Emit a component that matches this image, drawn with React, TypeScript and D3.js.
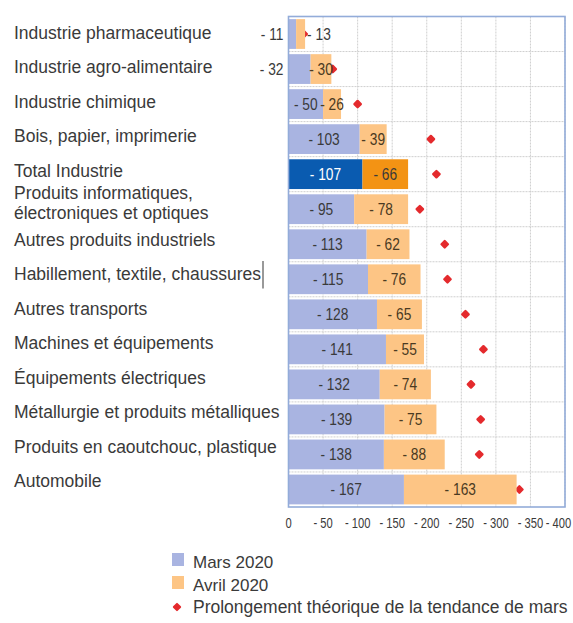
import * as d3 from 'd3';

// Industry sectors, top to bottom
const categories = [
  'Industrie pharmaceutique',
  'Industrie agro-alimentaire',
  'Industrie chimique',
  'Bois, papier, imprimerie',
  'Total Industrie',
  'Produits informatiques,\nélectroniques et optiques',
  'Autres produits industriels',
  'Habillement, textile, chaussures',
  'Autres transports',
  'Machines et équipements',
  'Équipements électriques',
  'Métallurgie et produits métalliques',
  'Produits en caoutchouc, plastique',
  'Automobile',
];

// drop, in points (shown as negative values)
const mars2020 = [11, 32, 50, 103, 107, 95, 113, 115, 128, 141, 132, 139, 138, 167];
const avril2020 = [13, 30, 26, 39, 66, 78, 62, 76, 65, 55, 74, 75, 88, 163];
// theoretical extension of the March trend (red markers)
const prolongement = [22, 64, 100, 206, 214, 190, 226, 230, 256, 282, 264, 278, 276, 334];

const xTicks = [0, 50, 100, 150, 200, 250, 300, 350, 400];

const FONT = '"Liberation Sans", Arial, sans-serif';
const TEXT = '#3a3a3a';

const App = () => {
  const width = 573;
  const height = 623;
  const plot = { left: 288.5, right: 565, top: 16.5, bottom: 507 };

  const x = d3.scaleLinear().domain([0, 400]).range([plot.left, plot.right]);
  const y = d3.scaleBand<string>()
    .domain(categories)
    .range([plot.top, plot.bottom])
    .paddingInner(0.15)
    .paddingOuter(0.075);
  const rowH = (plot.bottom - plot.top) / categories.length;
  // category labels sit a bit higher than the rows
  const yLabel = d3.scaleBand<string>().domain(categories).range([15.8, 498.2]);

  const marker = d3.symbol().type(d3.symbolSquare).size(20)() || '';

  const colors = (i: number) =>
    categories[i] === 'Total Industrie'
      ? { mars: '#0a5bb0', avril: '#f39314', marsText: '#ffffff', avrilText: '#3a3a3a' }
      : { mars: '#a9b4e1', avril: '#fdc585', marsText: TEXT, avrilText: '#4a3a22' };

  // horizontally squeezed text, to mimic the condensed font of the original
  const narrowText = (
    key: string, tx: number, ty: number, label: string,
    anchor: 'start' | 'middle' | 'end', size: number, fill: string, squeeze = 0.86
  ) => (
    <g key={key} transform={`translate(${tx},${ty}) scale(${squeeze},1)`}>
      <text textAnchor={anchor} fontSize={size} fill={fill}>{label}</text>
    </g>
  );

  return (
    <svg
      width={width}
      height={height}
      style={{ position: 'absolute', left: 0, top: 0, background: '#fff' }}
      fontFamily={FONT}
    >
      {/* vertical grid */}
      {xTicks.map(t => (
        <line
          key={'gx' + t}
          x1={x(t)} x2={x(t)} y1={plot.top} y2={plot.bottom}
          stroke="#cfcfcf" strokeWidth={1} strokeDasharray="2,1"
        />
      ))}
      {/* horizontal grid at row boundaries */}
      {d3.range(1, categories.length).map(i => (
        <line
          key={'gy' + i}
          x1={plot.left} x2={plot.right}
          y1={plot.top + i * rowH} y2={plot.top + i * rowH}
          stroke="#cfcfcf" strokeWidth={1} strokeDasharray="2,1"
        />
      ))}

      {/* trend markers, drawn under the bars */}
      {categories.map((c, i) => (
        <path
          key={'p' + i}
          d={marker}
          transform={`translate(${x(prolongement[i])},${(y(c) || 0) + y.bandwidth() / 2}) rotate(45)`}
          fill="#e42a2d"
          stroke="#e42a2d"
          strokeWidth={2.4}
          strokeLinejoin="round"
        />
      ))}

      {/* bars */}
      {categories.map((c, i) => {
        const y0 = y(c) || 0;
        const bh = y.bandwidth();
        const col = colors(i);
        const xm0 = x(0);
        const xm1 = x(mars2020[i]);
        const xa1 = x(mars2020[i] + avril2020[i]);
        const cy = y0 + bh / 2 + 5.5;
        const marsInside = xm1 - xm0 > 25;
        const avrilInside = xa1 - xm1 > 15;
        return (
          <g key={c}>
            <rect x={xm0} y={y0} width={xm1 - xm0} height={bh} fill={col.mars} />
            <rect x={xm1} y={y0} width={xa1 - xm1} height={bh} fill={col.avril} />
            {narrowText(
              'm' + i,
              marsInside ? (xm0 + xm1) / 2 : xm0 - 5,
              cy,
              '- ' + mars2020[i],
              marsInside ? 'middle' : 'end',
              16,
              marsInside ? col.marsText : TEXT
            )}
            {narrowText(
              'a' + i,
              avrilInside ? (xm1 + xa1) / 2 : xa1 + 2,
              cy,
              '- ' + avril2020[i],
              avrilInside ? 'middle' : 'start',
              16,
              avrilInside ? col.avrilText : TEXT
            )}
          </g>
        );
      })}

      {/* plot frame */}
      <rect
        x={plot.left} y={plot.top}
        width={plot.right - plot.left} height={plot.bottom - plot.top}
        fill="none" stroke="#93acd9" strokeWidth={1.6}
      />

      {/* category labels */}
      {categories.map(c => {
        const lines = c.split('\n');
        const cy = (yLabel(c) || 0) + yLabel.bandwidth() / 2;
        const lh = 20;
        const shift = lines.length > 1 ? -2 : 0;
        return (
          <text key={'l' + c} x={14} fontSize={17.5} fill={TEXT}>
            {lines.map((ln, k) => (
              <tspan key={k} x={14} y={cy + 6 + shift + (k - (lines.length - 1) / 2) * lh}>{ln}</tspan>
            ))}
          </text>
        );
      })}
      {/* stray text cursor after the clothing label */}
      <line
        x1={263} x2={263}
        y1={(yLabel('Habillement, textile, chaussures') || 0) + 4}
        y2={(yLabel('Habillement, textile, chaussures') || 0) + yLabel.bandwidth() - 3}
        stroke="#555" strokeWidth={1.2}
      />

      {/* x axis tick labels (last one pulled in so it stays on the page) */}
      {xTicks.map(t =>
        narrowText('t' + t, Math.min(x(t), 558.5), 528, t === 0 ? '0' : '- ' + t, 'middle', 14, TEXT, 0.8)
      )}

      {/* legend */}
      <rect x={172} y={553} width={12} height={13} fill="#a9b4e1" />
      <text x={193} y={568} fontSize={17} fill={TEXT}>Mars 2020</text>
      <rect x={172} y={576} width={12} height={13} fill="#fdc585" />
      <text x={193} y={591} fontSize={17} fill={TEXT}>Avril 2020</text>
      <path
        d={marker}
        transform="translate(177,607) rotate(45)"
        fill="#e42a2d" stroke="#e42a2d" strokeWidth={2} strokeLinejoin="round"
      />
      <text x={193} y={613} fontSize={17.5} fill={TEXT}>Prolongement théorique de la tendance de mars</text>
    </svg>
  );
};

export default App;
